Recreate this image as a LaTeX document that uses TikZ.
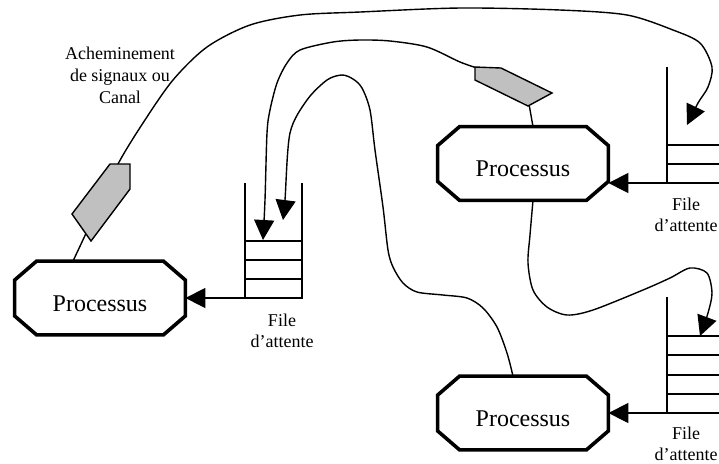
\documentclass[tikz,border=0pt]{standalone}
\usepackage{fontspec}
\setmainfont{Liberation Serif}
\usetikzlibrary{arrows.meta,calc}
\definecolor{changrey}{RGB}{192,192,192}

% octagonal outline drawn around a (text-only) process node
\newcommand\drawocto[1]{%
  \draw[octo] ($(#1.north west)+(22,0)$) -- ($(#1.north east)+(-22,0)$)
    -- ($(#1.north east)+(0,19)$) -- ($(#1.south east)+(0,-19)$)
    -- ($(#1.south east)+(-22,0)$) -- ($(#1.south west)+(22,0)$)
    -- ($(#1.south west)+(0,-19)$) -- ($(#1.north west)+(0,19)$) -- cycle;}

\begin{document}
\begin{tikzpicture}[x=0.5pt,y=-0.5pt,
  thinline/.style={line width=0.7pt},
  proc/.style={minimum width=85pt,minimum height=36.5pt,inner sep=0pt,
    text height=13.4pt,text depth=0pt,font=\fontsize{12}{14}\selectfont},
  octo/.style={line width=1.8pt,line join=miter},
  arr/.style={thinline,-{Triangle[length=10pt,width=10pt]}},
  lbl/.style={align=center,inner sep=0pt,font=\fontsize{9}{10.5}\selectfont},
  chan/.style={thinline,fill=changrey,line join=miter}]

\useasboundingbox (0,0) rectangle (719,463);
\clip (0,0) rectangle (719,463);

% processes
\node[proc] (p1) at (100,298) {Processus};
\node[proc] (p2) at (523,163.5) {Processus};
\node[proc] (p3) at (523,413) {Processus};
\drawocto{p1}
\drawocto{p2}
\drawocto{p3}

% waiting queues (open at the top)
\coordinate (q1) at (245,298);
\coordinate (q2) at (667,183);
\coordinate (q3) at (667,413);
\draw[thinline] (245,183) -- (q1) -- (302,298) -- (302,183);
\foreach \y in {241,260,279} \draw[thinline] (245,\y) -- (302,\y);
\draw[thinline] (667,67) -- (q2) -- (724,183) -- (724,67);
\foreach \y in {145,164} \draw[thinline] (667,\y) -- (724,\y);
\draw[thinline] (667,297) -- (q3) -- (724,413) -- (724,297);
\foreach \y in {336,355,375,394} \draw[thinline] (667,\y) -- (724,\y);

% queue to process
\draw[arr] (q1) -- (p1.east);
\draw[arr] (q2) -- (q2 -| p2.east);
\draw[arr] (q3) -- (p3.east);

% end points of the signal routes
\coordinate (c1s) at ($(p1.north)+(-27,0)$);
\coordinate (c1e) at (687,125);
\coordinate (c2s) at ($(p2.north)+(10,0)$);
\coordinate (ch2b) at (529,104);
\coordinate (ch2l) at (480,69);
\coordinate (c2e) at (263,240);
\coordinate (c3s) at ($(p3.north)+(-10,0)$);
\coordinate (c3e) at (283,220);
\coordinate (c4s) at ($(p2.south)+(10,0)$);
\coordinate (c4e) at (700,336);

% signal routes
\draw[arr] plot[smooth] coordinates {(c1s) (96,212) (118,164) (143,123)
  (173,80) (207,47) (250,25) (300,15) (360,12) (460,8) (560,10) (627,15)
  (673,30) (700,43) (712,67) (708,87) (698,103) (c1e)};
\draw[thinline] (c2s) -- (ch2b);
\draw[arr] plot[smooth] coordinates {(ch2l) (460,62) (427,47) (390,41)
  (360,40) (333,42) (300,50) (287,63) (277,83) (270,110) (267,133)
  (265,200) (c2e)};
\draw[arr] plot[smooth] coordinates {(c3s) (507,353) (497,327) (483,308)
  (467,298) (443,295) (417,292) (403,283) (393,267) (388,250) (383,207)
  (375,150) (370,110) (362,88) (353,79) (342,75) (327,80) (307,100)
  (290,133) (285,200) (c3e)};
\draw[arr] plot[smooth] coordinates {(c4s) (530,235) (528,263) (533,290)
  (547,307) (567,315) (593,310) (643,290) (670,278) (690,268) (707,273)
  (712,293) (708,313) (c4e)};

% channels
\filldraw[chan] (110,164) -- (130,164) -- (130,189) -- (91,241) -- (72,214) -- cycle;
\filldraw[chan] (475,67) -- (501,68) -- (552,93) -- (528,106) -- (475,80) -- cycle;

% labels
\node[lbl,font=\fontsize{9}{11}\selectfont] (lc) at (120,75)
  {Acheminement\\de signaux ou\\Canal};
\node[lbl] (l1) at (282,331) {File\\d’attente};
\node[lbl] (l2) at (686,215) {File\\d’attente};
\node[lbl] (l3) at (686,444) {File\\d’attente};
\end{tikzpicture}
\end{document}
